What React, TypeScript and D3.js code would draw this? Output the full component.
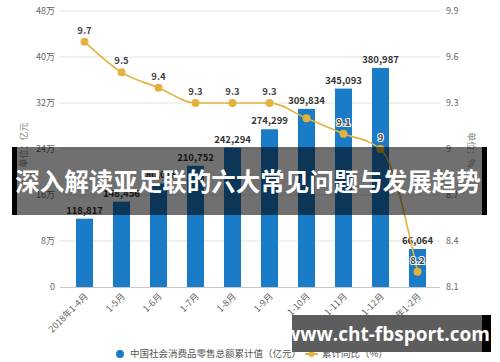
import { useEffect, useRef } from "react";
import * as d3 from "d3";

const categories = ["2018年1-4月", "1-5月", "1-6月", "1-7月", "1-8月", "1-9月", "1-10月", "1-11月", "1-12月", "2019年1-2月"];
const retailValues = [118817, 148456, 180018, 210752, 242294, 274299, 309834, 345093, 380987, 66064];
const growthValues = [9.7, 9.5, 9.4, 9.3, 9.3, 9.3, 9.2, 9.1, 9.0, 8.2];
// the reference hides the 1-10月 growth label behind the bar label
const growthLabelShown = [true, true, true, true, true, true, false, true, true, true];
const leftTicks = [0, 80000, 160000, 240000, 320000, 400000, 480000];
const leftTickLabels = ["0", "8万", "16万", "24万", "32万", "40万", "48万"];
const rightTicks = [8.1, 8.4, 8.7, 9.0, 9.3, 9.6, 9.9];
const rightTickLabels = ["8.1", "8.4", "8.7", "9", "9.3", "9.6", "9.9"];

const W = 500;
const H = 362;
const FONT = "'Noto Sans CJK SC', 'Noto Sans', sans-serif";

export default function App() {
  const ref = useRef<SVGSVGElement>(null);

  useEffect(() => {
    const svg = d3.select(ref.current);
    svg.selectAll("*").remove();

    const top = 11, bottom = 287, left = 60, right = 440;

    const x = d3.scaleBand().domain(categories).range([66, 436]).paddingInner(0.54).paddingOuter(0.27);
    const yL = d3.scaleLinear().domain([0, 480000]).range([bottom, top]);
    const yR = d3.scaleLinear().domain([8.1, 9.9]).range([bottom, top]);
    const cx = (i: number) => (x(categories[i]) as number) + x.bandwidth() / 2;

    // gridlines
    svg.append("g").selectAll("line").data(leftTicks.slice(1)).enter().append("line")
      .attr("x1", left).attr("x2", right)
      .attr("y1", d => yL(d)).attr("y2", d => yL(d))
      .attr("stroke", "#e3e3e3").attr("stroke-width", 1);

    svg.append("line").attr("x1", left).attr("x2", right)
      .attr("y1", bottom + 0.5).attr("y2", bottom + 0.5)
      .attr("stroke", "#c8c8c8");

    // left tick labels
    svg.append("g").selectAll("text").data(leftTicks).enter().append("text")
      .attr("x", 55).attr("y", d => yL(d)).attr("dy", "0.35em")
      .attr("text-anchor", "end").attr("fill", "#666").style("font-size", "9px")
      .style("font-family", FONT)
      .text((_, i) => leftTickLabels[i]);

    // right tick labels
    svg.append("g").selectAll("text").data(rightTicks).enter().append("text")
      .attr("x", 446).attr("y", d => yR(d)).attr("dy", "0.35em")
      .attr("text-anchor", "start").attr("fill", "#666").style("font-size", "9px")
      .style("font-family", FONT)
      .text((_, i) => rightTickLabels[i]);

    // axis titles
    svg.append("text").attr("transform", "translate(27,145) rotate(-90)")
      .attr("text-anchor", "middle").attr("fill", "#888").style("font-size", "9px")
      .style("font-family", FONT).text("单位：亿元");
    svg.append("text").attr("transform", "translate(468,150) rotate(90)")
      .attr("text-anchor", "middle").attr("fill", "#888").style("font-size", "9px")
      .style("font-family", FONT).text("单位：%");

    // x labels
    svg.append("g").selectAll("text").data(categories).enter().append("text")
      .attr("transform", (_, i) => `translate(${cx(i) + 4},${bottom + 10}) rotate(-45)`)
      .attr("text-anchor", "end").attr("fill", "#666").style("font-size", "9px")
      .style("font-family", FONT).text(d => d);

    // bars
    svg.append("g").selectAll("rect").data(retailValues).enter().append("rect")
      .attr("x", (_, i) => x(categories[i]) as number)
      .attr("y", d => yL(d))
      .attr("width", x.bandwidth())
      .attr("height", d => bottom - yL(d))
      .attr("fill", "#1a7bc6");

    svg.append("g").selectAll("text").data(retailValues).enter().append("text")
      .attr("x", (_, i) => cx(i))
      .attr("y", d => yL(d) - 5)
      .attr("text-anchor", "middle").attr("fill", "#333")
      .style("font-size", "9.5px").style("font-weight", "bold").style("font-family", FONT)
      .text(d => d3.format(",")(d));

    // line
    const line = d3.line<number>()
      .x((_, i) => cx(i))
      .y(d => yR(d))
      .curve(d3.curveMonotoneX);
    svg.append("path").datum(growthValues).attr("d", line)
      .attr("fill", "none").attr("stroke", "#e3b23c").attr("stroke-width", 1.6);

    svg.append("g").selectAll("circle").data(growthValues).enter().append("circle")
      .attr("cx", (_, i) => cx(i))
      .attr("cy", d => yR(d)).attr("r", 4).attr("fill", "#e3b23c");

    const labelled = growthValues.map((v, i) => ({ v, i })).filter(d => growthLabelShown[d.i]);
    svg.append("g").selectAll("text").data(labelled).enter().append("text")
      .attr("x", d => cx(d.i))
      .attr("y", d => yR(d.v) - 8)
      .attr("text-anchor", "middle").attr("fill", "#444")
      .attr("stroke", "#fff").attr("stroke-width", 2).style("paint-order", "stroke")
      .style("font-size", "9.5px").style("font-weight", "bold").style("font-family", FONT)
      .text(d => d3.format("")(d.v));

    // title banner
    svg.append("rect").attr("x", 12).attr("y", 147).attr("width", 475).attr("height", 68)
      .attr("fill", "rgba(0,0,0,0.56)");
    svg.append("rect").attr("x", 12).attr("y", 147).attr("width", 5).attr("height", 68).attr("fill", "#000");
    svg.append("rect").attr("x", 482).attr("y", 147).attr("width", 5).attr("height", 68).attr("fill", "#000");
    svg.append("text").attr("x", 248).attr("y", 182).attr("dy", "0.35em")
      .attr("text-anchor", "middle").attr("fill", "#fff")
      .style("font-size", "24.5px").style("font-weight", "bold").style("font-family", FONT)
      .text("深入解读亚足联的六大常见问题与发展趋势");

    // legend
    svg.append("circle").attr("cx", 120).attr("cy", 354).attr("r", 4).attr("fill", "#1a7bc6");
    svg.append("text").attr("x", 130).attr("y", 354).attr("dy", "0.35em")
      .attr("fill", "#555").style("font-size", "9.5px").style("font-family", FONT)
      .text("中国社会消费品零售总额累计值（亿元）");
    svg.append("line").attr("x1", 305).attr("x2", 318).attr("y1", 354).attr("y2", 354)
      .attr("stroke", "#e3b23c").attr("stroke-width", 2);
    svg.append("circle").attr("cx", 311.5).attr("cy", 354).attr("r", 3).attr("fill", "#e3b23c");
    svg.append("text").attr("x", 322).attr("y", 354).attr("dy", "0.35em")
      .attr("fill", "#555").style("font-size", "9.5px").style("font-family", FONT)
      .text("累计同比（%）");

    // url banner
    svg.append("rect").attr("x", 292).attr("y", 315).attr("width", 199).attr("height", 37).attr("fill", "#5d5d5d");
    svg.append("rect").attr("x", 482).attr("y", 315).attr("width", 9).attr("height", 37).attr("fill", "#000");
    svg.append("text").attr("x", 387).attr("y", 334).attr("dy", "0.35em")
      .attr("text-anchor", "middle").attr("fill", "#fff")
      .style("font-size", "19px").style("font-weight", "bold").style("font-family", "'Open Sans', sans-serif")
      .text("www.cht-fbsport.com");
  }, []);

  return (
    <div style={{ position: "absolute", left: 0, top: 0 }}>
      <svg ref={ref} width={W} height={H} style={{ display: "block", background: "#fff" }} />
    </div>
  );
}
